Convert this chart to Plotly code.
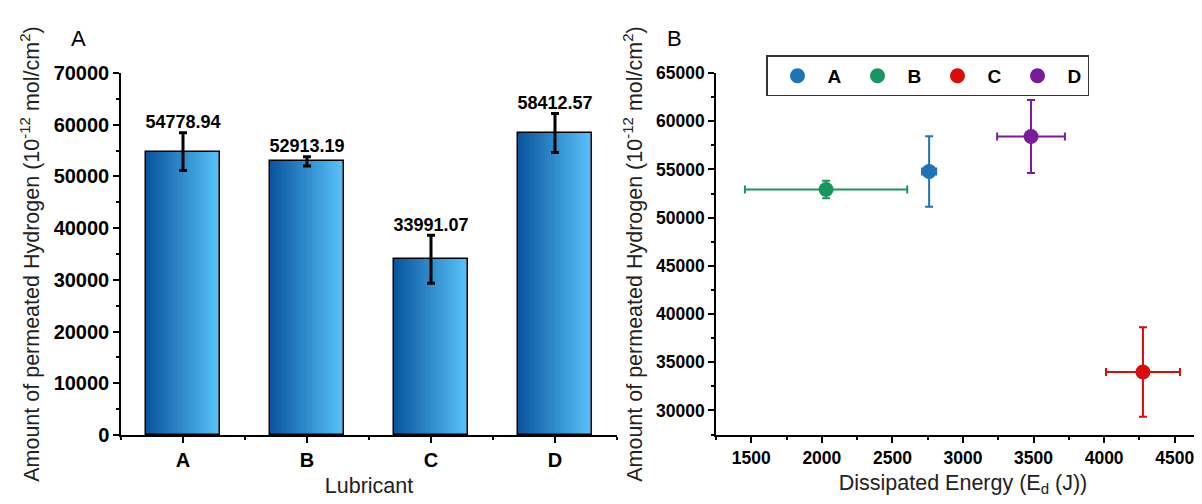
import plotly.graph_objects as go

# ---------------- data ----------------
lubricants = ["A", "B", "C", "D"]
hydrogen = [54778.94, 52913.19, 33991.07, 58412.57]
hydrogen_err = [3650, 900, 4650, 3780]
energy = [2760, 2030, 4275, 3482]
energy_err = [50, 575, 262, 240]
point_colors = ["#1f73b7", "#17965f", "#dc0c0c", "#7a1b9b"]

bar_dark = (10, 86, 158)
bar_light = (88, 194, 250)
N_SLICES = 30
BAR_W = 0.6

FONT = "Liberation Sans, Arial, sans-serif"

fig = go.Figure()
idx = list(range(len(lubricants)))

# gradient bars (panel A)
for i in range(N_SLICES):
    t = i / (N_SLICES - 1)
    c = tuple(int(round(bar_dark[k] + (bar_light[k] - bar_dark[k]) * t)) for k in range(3))
    sw = BAR_W / N_SLICES
    w = sw * (1.4 if i < N_SLICES - 1 else 1.0)
    fig.add_trace(go.Bar(
        x=idx, y=hydrogen, width=[w] * len(idx), offset=[-BAR_W / 2 + i * sw] * len(idx),
        marker=dict(color="rgb(%d,%d,%d)" % c, line=dict(width=0)),
        showlegend=False, hoverinfo="skip", xaxis="x", yaxis="y"))

# outline + error bars
fig.add_trace(go.Bar(
    x=idx, y=hydrogen, width=[BAR_W] * len(idx),
    marker=dict(color="rgba(0,0,0,0)", line=dict(color="black", width=1.5)),
    error_y=dict(type="data", array=hydrogen_err, color="black", thickness=3, width=4),
    showlegend=False, xaxis="x", yaxis="y"))

# value labels
fig.add_trace(go.Scatter(
    x=idx, y=[h + e for h, e in zip(hydrogen, hydrogen_err)],
    text=["%.2f" % h for h in hydrogen], mode="text", textposition="top center",
    textfont=dict(family=FONT, size=18, color="black", weight="bold"),
    showlegend=False, xaxis="x", yaxis="y", cliponaxis=False))

# panel B scatter
for name, e, ee, h, he, col in zip(lubricants, energy, energy_err, hydrogen, hydrogen_err, point_colors):
    fig.add_trace(go.Scatter(
        x=[e], y=[h], name=name, mode="markers",
        marker=dict(color=col, size=15),
        error_x=dict(type="data", array=[ee], color=col, thickness=2, width=4),
        error_y=dict(type="data", array=[he], color=col, thickness=2, width=4),
        xaxis="x2", yaxis="y2"))


def axis_style(size):
    return dict(
        showline=True, linecolor="black", linewidth=1.5, ticks="outside", ticklen=6,
        tickwidth=1.5, tickcolor="black", showgrid=False, zeroline=False, mirror=False,
        tickfont=dict(family=FONT, size=size, color="black", weight="bold"),
    )


minor_style = dict(ticks="outside", ticklen=3, tickcolor="black", tickwidth=1.5)
title_font = dict(family=FONT, size=21.5, color="#222")
ytitle = "Amount of permeated Hydrogen (10<sup>-12</sup> mol/cm<sup>2</sup>)"
ydom = [(504 - 435) / 504, (504 - 56.5) / 504]

fig.update_layout(
    width=1202, height=504,
    margin=dict(l=0, r=0, t=0, b=0),
    paper_bgcolor="white", plot_bgcolor="white",
    barmode="overlay", bargap=0,
    xaxis=dict(axis_style(20), domain=[113 / 1202, 609 / 1202], range=[-0.5, 3.5],
               tickvals=idx, ticktext=lubricants,
               minor=dict(minor_style, dtick=0.5, tick0=0),
               title=dict(text="Lubricant", font=title_font, standoff=8)),
    yaxis=dict(axis_style(20), domain=ydom, range=[0, 70000], dtick=10000, tickformat="d",
               minor=dict(minor_style, dtick=5000),
               title=dict(text=ytitle, font=title_font, standoff=8)),
    xaxis2=dict(axis_style(17.5), domain=[708 / 1202, 1.0], range=[1250, 4750], dtick=500,
                tickformat="d", anchor="y2",
                minor=dict(minor_style, dtick=250),
                title=dict(text="Dissipated Energy (E<sub>d</sub> (J))", font=title_font, standoff=8)),
    yaxis2=dict(axis_style(17.5), domain=ydom, range=[27450, 65000], dtick=5000, tick0=0,
                tickformat="d", anchor="x2",
                minor=dict(minor_style, dtick=2500),
                title=dict(text=ytitle, font=title_font, standoff=8)),
    legend=dict(orientation="h", x=758 / 1202, y=1 - 38 / 504, xanchor="left", yanchor="top",
                bordercolor="#333", borderwidth=1.5, bgcolor="white",
                font=dict(family=FONT, size=19, color="black", weight="bold"),
                itemwidth=50, entrywidth=15, entrywidthmode="pixels", itemsizing="trace"),
    annotations=[
        dict(text="A", x=70 / 1202, y=1 - 20 / 504, xref="paper", yref="paper", showarrow=False,
             font=dict(family=FONT, size=22, color="black"), xanchor="center", yanchor="middle"),
        dict(text="B", x=667 / 1202, y=1 - 20 / 504, xref="paper", yref="paper", showarrow=False,
             font=dict(family=FONT, size=22, color="black"), xanchor="center", yanchor="middle"),
    ],
)

fig.write_html("out.html")
